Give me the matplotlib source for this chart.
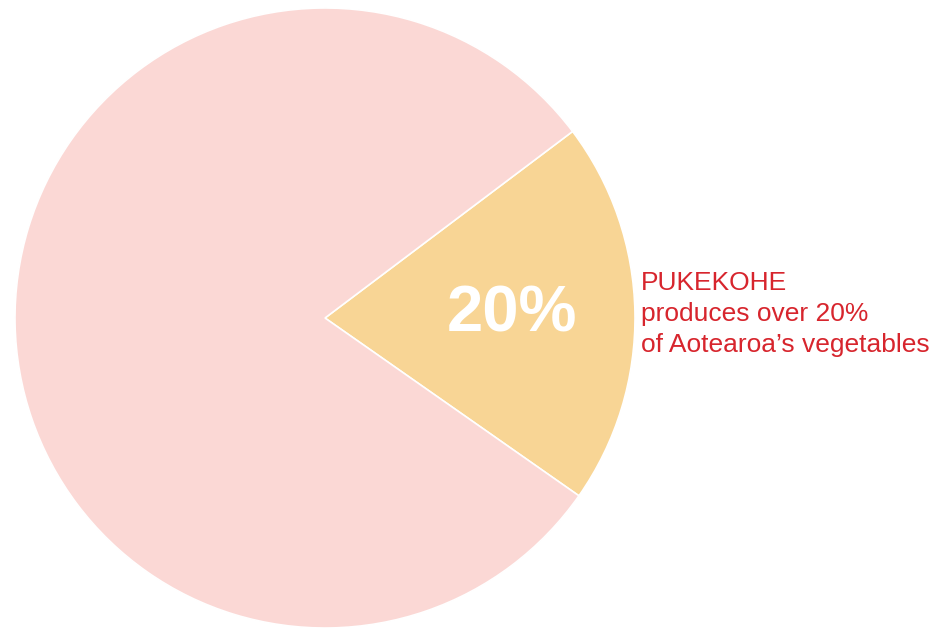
import matplotlib.pyplot as plt

# Pie shares (percent)
labels = ["Pukekohe", "Rest of Aotearoa"]
shares = [20, 80]
colors = ["#F8D595", "#FBD8D5"]

note_lines = ["PUKEKOHE", "produces over 20%", "of Aotearoa\u2019s vegetables"]

fig = plt.figure(figsize=(9.38, 6.28), dpi=100)
ax = fig.add_axes([0, 0, 1, 1])

ax.pie(
    shares,
    colors=colors,
    startangle=-35,
    counterclock=True,
    radius=310,
    center=(325, 310),
    frame=True,
    wedgeprops=dict(edgecolor="white", linewidth=1.2),
)

ax.set_xlim(0, 938)
ax.set_ylim(0, 628)
ax.set_aspect("equal")
ax.axis("off")

# Big label inside the slice
ax.text(512, 313, f"{shares[0]}%", color="white", fontsize=47,
        fontweight="bold", family="Liberation Sans",
        ha="center", va="center")

# Note on the right
for i, line in enumerate(note_lines):
    ax.text(641, 345 - i * 31, line, color="#D7252D", fontsize=19,
            family="Liberation Sans", ha="left", va="center")

fig.savefig("out.png", dpi=100)
